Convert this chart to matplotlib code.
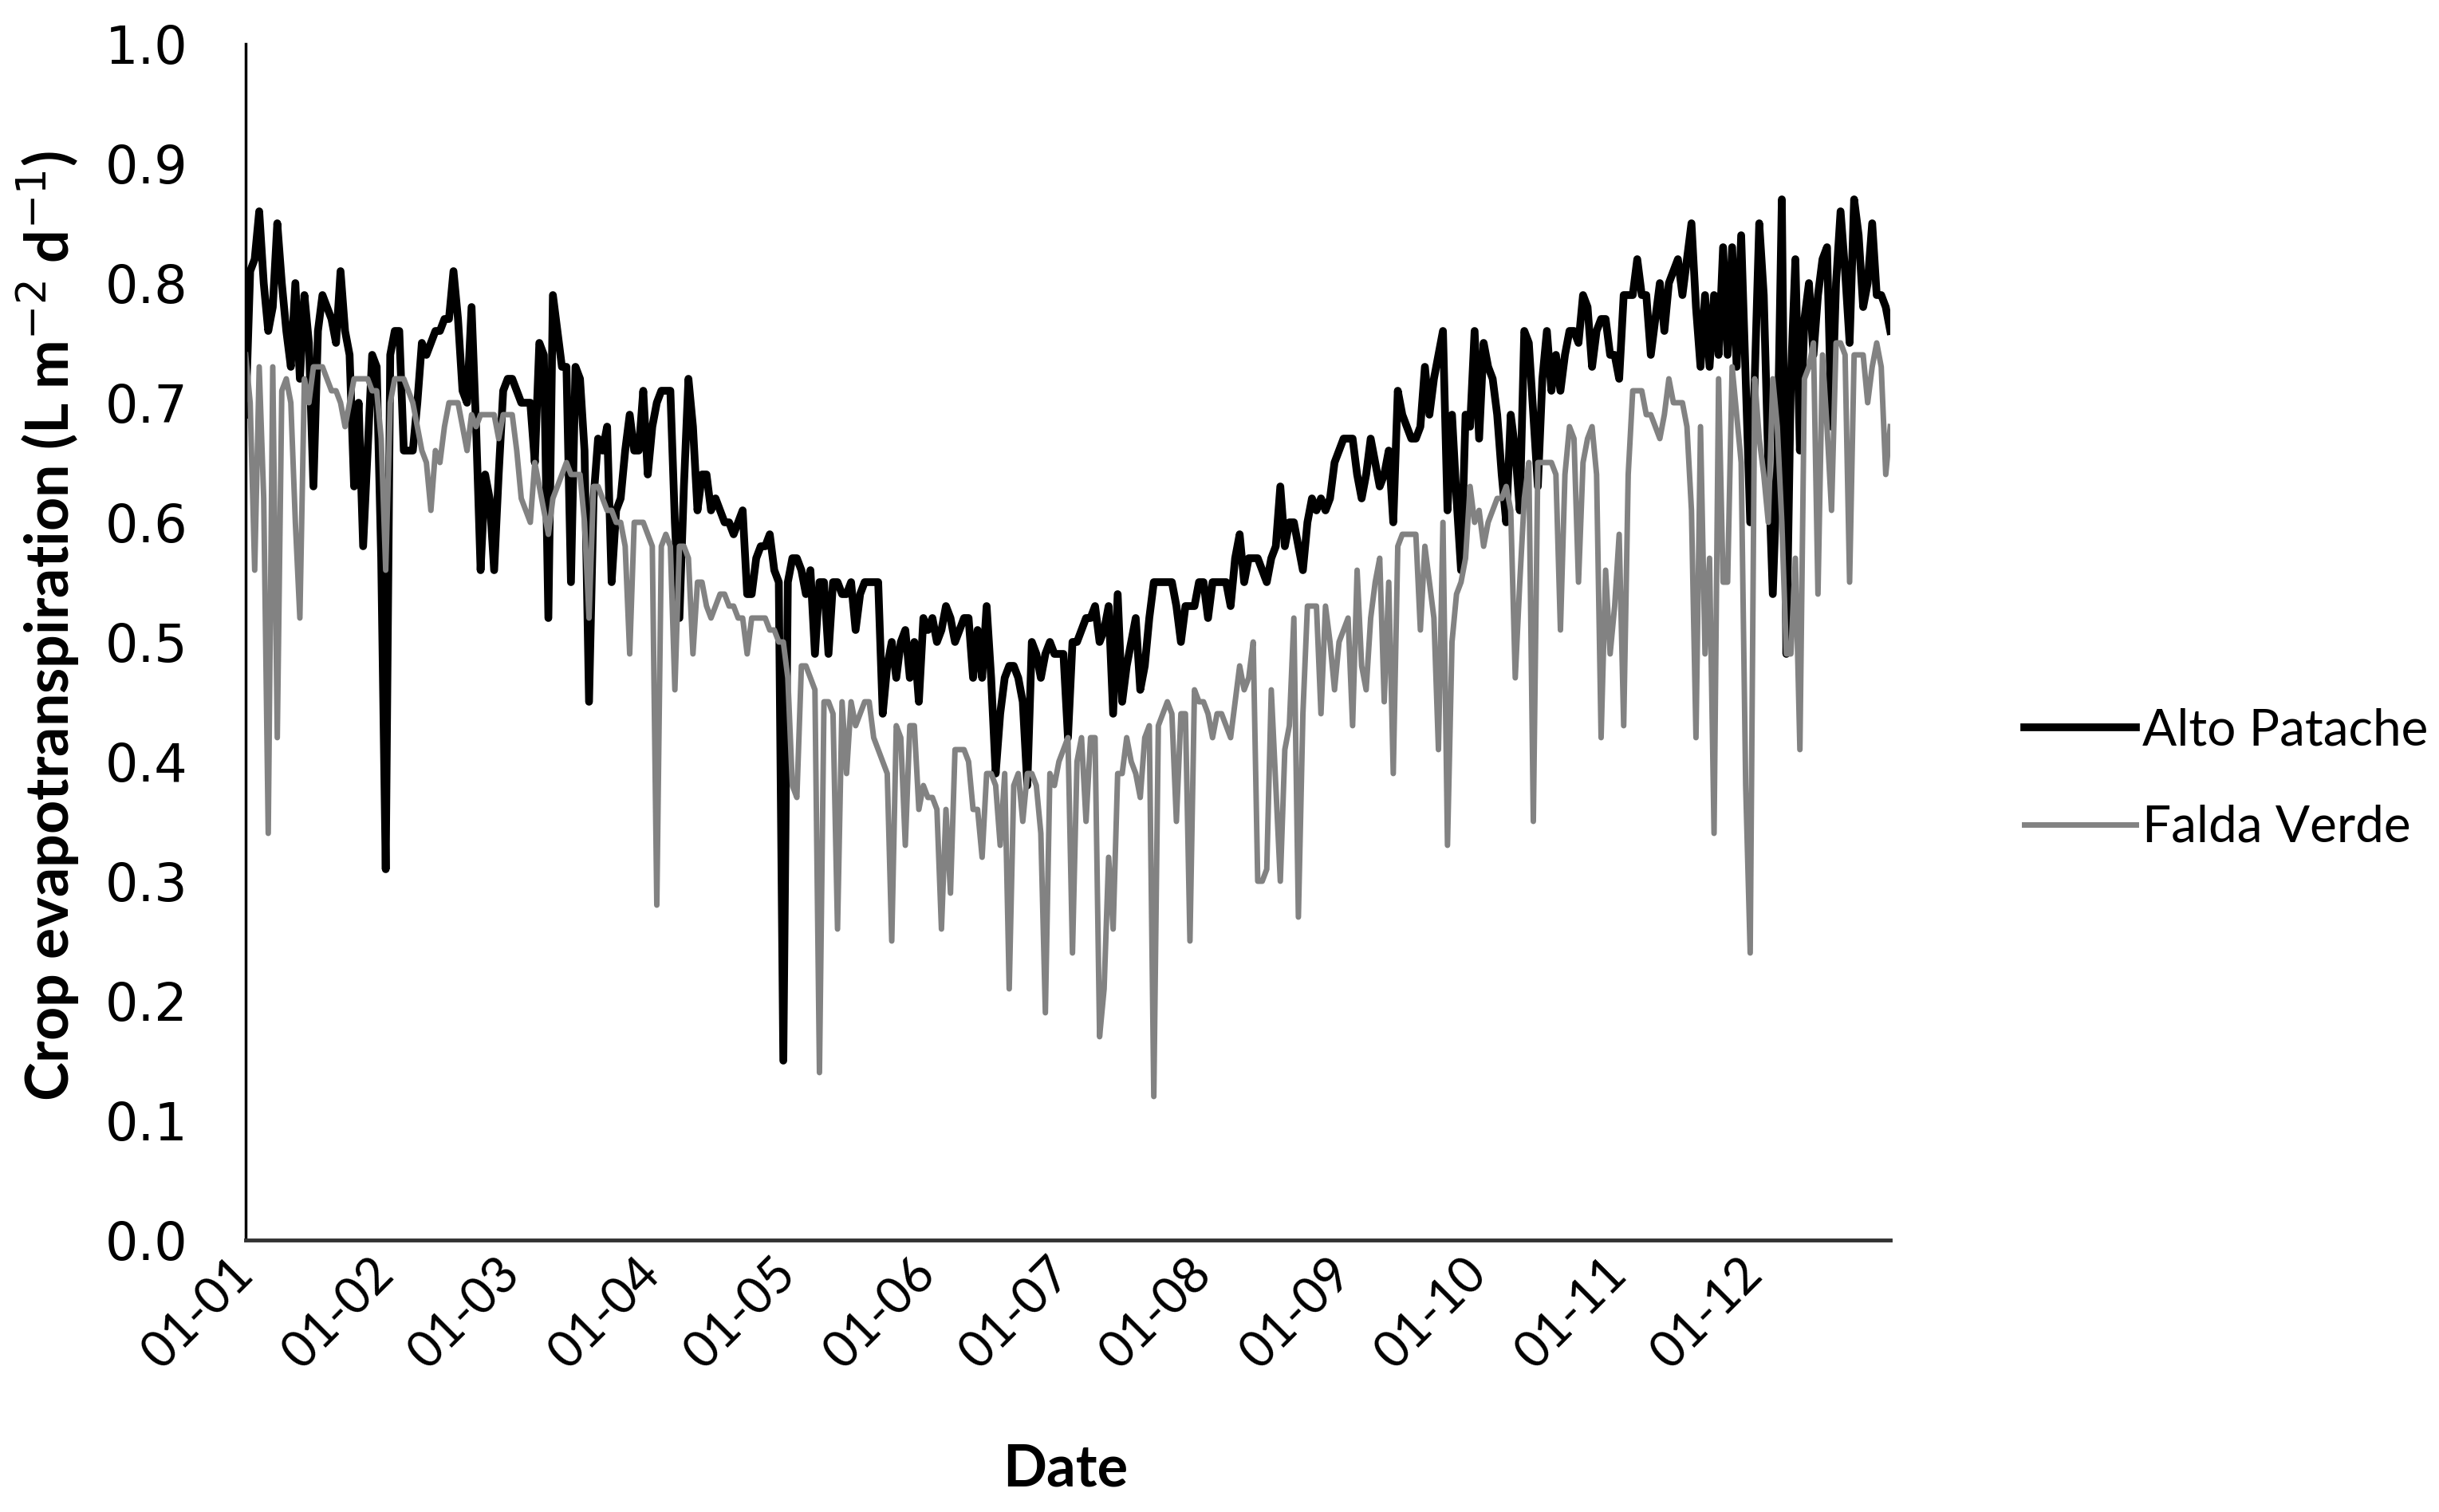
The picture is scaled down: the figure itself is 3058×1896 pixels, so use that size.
import numpy as np
import matplotlib
matplotlib.use("Agg")
import matplotlib.pyplot as plt

# daily crop evapotranspiration (L m-2 d-1), day 0 = 01-01
alto_patache = [
    0.69, 0.81, 0.82, 0.86, 0.80, 0.76, 0.78, 0.85, 0.80, 0.76,
    0.73, 0.80, 0.72, 0.79, 0.75, 0.63, 0.76, 0.79, 0.78, 0.77,
    0.75, 0.81, 0.76, 0.74, 0.63, 0.70, 0.58, 0.66, 0.74, 0.73,
    0.57, 0.31, 0.74, 0.76, 0.76, 0.66, 0.66, 0.66, 0.70, 0.75,
    0.74, 0.75, 0.76, 0.76, 0.77, 0.77, 0.81, 0.77, 0.71, 0.70,
    0.78, 0.68, 0.56, 0.64, 0.62, 0.56, 0.64, 0.71, 0.72, 0.72,
    0.71, 0.70, 0.70, 0.70, 0.65, 0.75, 0.74, 0.52, 0.79, 0.76,
    0.73, 0.73, 0.55, 0.73, 0.72, 0.66, 0.45, 0.62, 0.67, 0.66,
    0.68, 0.55, 0.61, 0.62, 0.66, 0.69, 0.66, 0.66, 0.71, 0.64,
    0.68, 0.70, 0.71, 0.71, 0.71, 0.60, 0.52, 0.63, 0.72, 0.68,
    0.61, 0.64, 0.64, 0.61, 0.62, 0.61, 0.60, 0.60, 0.59, 0.60,
    0.61, 0.54, 0.54, 0.57, 0.58, 0.58, 0.59, 0.56, 0.55, 0.15,
    0.55, 0.57, 0.57, 0.56, 0.54, 0.56, 0.49, 0.55, 0.55, 0.49,
    0.55, 0.55, 0.54, 0.54, 0.55, 0.51, 0.54, 0.55, 0.55, 0.55,
    0.55, 0.44, 0.48, 0.50, 0.47, 0.50, 0.51, 0.47, 0.50, 0.45,
    0.52, 0.51, 0.52, 0.50, 0.51, 0.53, 0.52, 0.50, 0.51, 0.52,
    0.52, 0.47, 0.51, 0.47, 0.53, 0.47, 0.39, 0.44, 0.47, 0.48,
    0.48, 0.47, 0.45, 0.38, 0.50, 0.49, 0.47, 0.49, 0.50, 0.49,
    0.49, 0.49, 0.42, 0.50, 0.50, 0.51, 0.52, 0.52, 0.53, 0.50,
    0.51, 0.53, 0.44, 0.54, 0.45, 0.48, 0.50, 0.52, 0.46, 0.48,
    0.52, 0.55, 0.55, 0.55, 0.55, 0.55, 0.53, 0.50, 0.53, 0.53,
    0.53, 0.55, 0.55, 0.52, 0.55, 0.55, 0.55, 0.55, 0.53, 0.57,
    0.59, 0.55, 0.57, 0.57, 0.57, 0.56, 0.55, 0.57, 0.58, 0.63,
    0.58, 0.60, 0.60, 0.58, 0.56, 0.60, 0.62, 0.61, 0.62, 0.61,
    0.62, 0.65, 0.66, 0.67, 0.67, 0.67, 0.64, 0.62, 0.64, 0.67,
    0.65, 0.63, 0.64, 0.66, 0.60, 0.71, 0.69, 0.68, 0.67, 0.67,
    0.68, 0.73, 0.69, 0.72, 0.74, 0.76, 0.61, 0.69, 0.62, 0.56,
    0.69, 0.68, 0.76, 0.67, 0.75, 0.73, 0.72, 0.69, 0.64, 0.60,
    0.69, 0.66, 0.61, 0.76, 0.75, 0.69, 0.63, 0.72, 0.76, 0.71,
    0.74, 0.71, 0.74, 0.76, 0.76, 0.75, 0.79, 0.78, 0.73, 0.76,
    0.77, 0.77, 0.74, 0.74, 0.72, 0.79, 0.79, 0.79, 0.82, 0.79,
    0.79, 0.74, 0.77, 0.80, 0.76, 0.80, 0.81, 0.82, 0.79, 0.82,
    0.85, 0.78, 0.73, 0.79, 0.73, 0.79, 0.74, 0.83, 0.74, 0.83,
    0.73, 0.84, 0.72, 0.60, 0.72, 0.85, 0.79, 0.65, 0.54, 0.65,
    0.87, 0.49, 0.72, 0.82, 0.66, 0.77, 0.80, 0.74, 0.79, 0.82,
    0.83, 0.68, 0.80, 0.86, 0.81, 0.75, 0.87, 0.84, 0.78, 0.80,
    0.85, 0.79, 0.79, 0.78, 0.76,
]

falda_verde = [
    0.74, 0.70, 0.56, 0.73, 0.62, 0.34, 0.73, 0.42, 0.71, 0.72,
    0.70, 0.60, 0.52, 0.72, 0.70, 0.73, 0.73, 0.73, 0.72, 0.71,
    0.71, 0.70, 0.68, 0.70, 0.72, 0.72, 0.72, 0.72, 0.71, 0.71,
    0.67, 0.56, 0.70, 0.72, 0.72, 0.72, 0.71, 0.70, 0.68, 0.66,
    0.65, 0.61, 0.66, 0.65, 0.68, 0.70, 0.70, 0.70, 0.68, 0.66,
    0.69, 0.68, 0.69, 0.69, 0.69, 0.69, 0.67, 0.69, 0.69, 0.69,
    0.66, 0.62, 0.61, 0.60, 0.65, 0.63, 0.61, 0.59, 0.62, 0.63,
    0.64, 0.65, 0.64, 0.64, 0.64, 0.60, 0.52, 0.63, 0.63, 0.62,
    0.61, 0.61, 0.60, 0.60, 0.58, 0.49, 0.60, 0.60, 0.60, 0.59,
    0.58, 0.28, 0.58, 0.59, 0.58, 0.46, 0.58, 0.58, 0.57, 0.49,
    0.55, 0.55, 0.53, 0.52, 0.53, 0.54, 0.54, 0.53, 0.53, 0.52,
    0.52, 0.49, 0.52, 0.52, 0.52, 0.52, 0.51, 0.51, 0.50, 0.50,
    0.47, 0.38, 0.37, 0.48, 0.48, 0.47, 0.46, 0.14, 0.45, 0.45,
    0.44, 0.26, 0.45, 0.39, 0.45, 0.43, 0.44, 0.45, 0.45, 0.42,
    0.41, 0.40, 0.39, 0.25, 0.43, 0.42, 0.33, 0.43, 0.43, 0.36,
    0.38, 0.37, 0.37, 0.36, 0.26, 0.36, 0.29, 0.41, 0.41, 0.41,
    0.40, 0.36, 0.36, 0.32, 0.39, 0.39, 0.38, 0.33, 0.39, 0.21,
    0.38, 0.39, 0.35, 0.39, 0.39, 0.38, 0.34, 0.19, 0.39, 0.38,
    0.40, 0.41, 0.42, 0.24, 0.40, 0.42, 0.35, 0.42, 0.42, 0.17,
    0.21, 0.32, 0.26, 0.39, 0.39, 0.42, 0.40, 0.39, 0.37, 0.42,
    0.43, 0.12, 0.43, 0.44, 0.45, 0.44, 0.35, 0.44, 0.44, 0.25,
    0.46, 0.45, 0.45, 0.44, 0.42, 0.44, 0.44, 0.43, 0.42, 0.45,
    0.48, 0.46, 0.47, 0.50, 0.30, 0.30, 0.31, 0.46, 0.38, 0.30,
    0.41, 0.43, 0.52, 0.27, 0.44, 0.53, 0.53, 0.53, 0.44, 0.53,
    0.50, 0.46, 0.50, 0.51, 0.52, 0.43, 0.56, 0.48, 0.46, 0.52,
    0.55, 0.57, 0.45, 0.55, 0.39, 0.58, 0.59, 0.59, 0.59, 0.59,
    0.51, 0.58, 0.55, 0.52, 0.41, 0.60, 0.33, 0.50, 0.54, 0.55,
    0.57, 0.63, 0.60, 0.61, 0.58, 0.60, 0.61, 0.62, 0.62, 0.63,
    0.61, 0.47, 0.55, 0.62, 0.65, 0.35, 0.65, 0.65, 0.65, 0.65,
    0.64, 0.51, 0.64, 0.68, 0.67, 0.55, 0.65, 0.67, 0.68, 0.64,
    0.42, 0.56, 0.49, 0.53, 0.59, 0.43, 0.64, 0.71, 0.71, 0.71,
    0.69, 0.69, 0.68, 0.67, 0.69, 0.72, 0.70, 0.70, 0.70, 0.68,
    0.61, 0.42, 0.68, 0.49, 0.57, 0.34, 0.72, 0.55, 0.55, 0.73,
    0.69, 0.65, 0.38, 0.24, 0.72, 0.67, 0.64, 0.60, 0.72, 0.68,
    0.60, 0.49, 0.49, 0.57, 0.41, 0.72, 0.73, 0.75, 0.54, 0.74,
    0.68, 0.61, 0.75, 0.75, 0.74, 0.55, 0.74, 0.74, 0.74, 0.70,
    0.73, 0.75, 0.73, 0.64, 0.68,
]

month_start = [0, 31, 59, 90, 120, 151, 181, 212, 243, 273, 304, 334]
month_labels = ["01-01", "01-02", "01-03", "01-04", "01-05", "01-06",
                "01-07", "01-08", "01-09", "01-10", "01-11", "01-12"]
y_ticks = [0.0, 0.1, 0.2, 0.3, 0.4, 0.5, 0.6, 0.7, 0.8, 0.9, 1.0]

days = np.arange(len(alto_patache))

fig = plt.figure(figsize=(30.58, 18.96), dpi=100)
ax = fig.add_axes([308 / 3058, 341 / 1896, 2062 / 3058, 1500 / 1896])

ax.plot(days, alto_patache, color="black", lw=7.0, solid_joinstyle="round",
        label="Alto Patache")
ax.plot(days, falda_verde, color="#828282", lw=5.0, solid_joinstyle="round",
        label="Falda Verde")

ax.set_xlim(0, len(days) - 1)
ax.set_ylim(0, 1.0)

ax.spines["top"].set_visible(False)
ax.spines["right"].set_visible(False)
ax.spines["left"].set_linewidth(2.5)
ax.spines["bottom"].set_linewidth(3.5)
ax.spines["bottom"].set_color("#333333")

ax.set_yticks(y_ticks)
ax.set_yticklabels(["%.1f" % v for v in y_ticks], fontsize=47,
                   family="DejaVu Sans")
ax.set_xticks(month_start)
ax.set_xticklabels(month_labels, fontsize=45, family="Lato", rotation=45,
                   ha="right", va="center", rotation_mode="anchor")
ax.tick_params(axis="y", length=0, pad=52)
ax.tick_params(axis="x", length=0, pad=24)

ax.set_ylabel(r"Crop evapotranspiration (L m$^{-2}$ d$^{-1}$)",
              fontsize=53, family="Lato", fontweight="bold")
ax.yaxis.set_label_coords(-0.100, 0.513)
ax.set_xlabel("Date", fontsize=52, family="Lato", fontweight="bold")
ax.xaxis.set_label_coords(0.4985, -0.170)

fig.legend(loc="center left", bbox_to_anchor=(2480 / 3058, 919 / 1896),
           frameon=False, prop={"family": "Lato", "size": 46},
           handlelength=2.2, handletextpad=0.12, labelspacing=1.0)

fig.savefig("out.png", dpi=100, facecolor="white")
